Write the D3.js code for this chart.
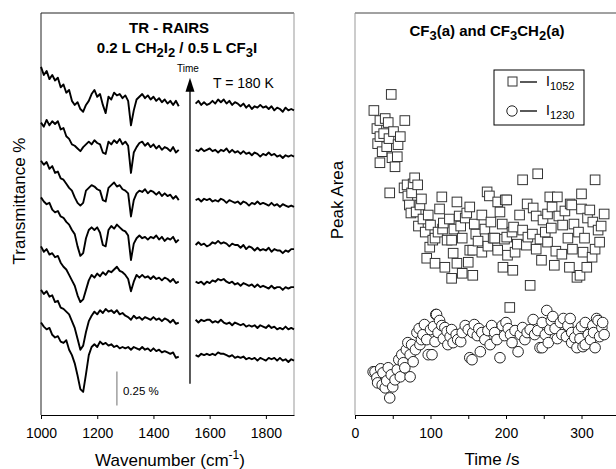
<!DOCTYPE html>
<html lang="en">
<head>
<meta charset="UTF-8">
<title>TR-RAIRS</title>
<script src="https://d3js.org/d3.v7.min.js"></script>
<style>
  body { margin: 0; background: #fff; }
  text { font-family: "Liberation Sans", Arial, sans-serif; }
</style>
</head>
<body>
<div id="chart"></div>
<script>
// ---- left panel: spectra (transmittance in units of 0.01 %) ----
const wnLeft = [1000,1010,1020,1030,1040,1050,1060,1070,1080,1090,1100,1110,1120,1130,1140,1150,1160,1170,1180,1190,
  1200,1210,1220,1230,1240,1250,1260,1270,1280,1290,1300,1310,1320,1330,1340,1350,1360,1370,1380,1390,
  1400,1410,1420,1430,1440,1450,1460,1470,1480,1490];
const wnRight = [1550,1560,1570,1580,1590,1600,1610,1620,1630,1640,1650,1660,1670,1680,1690,1700,1710,1720,
  1730,1740,1750,1760,1770,1780,1790,1800,1810,1820,1830,1840,1850,1860,1870,1880,1890,1900];

// top trace first (latest time)
const spectraLeft = [
  [256,250,253,247,250,246,248,241,243,237,239,231,228,230,225,223,228,231,236,239,234,236,228,222,234,232,237,235,236,233,235,231,213,224,232,234,236,233,235,232,234,231,233,230,232,229,231,228,231,227],
  [215,212,217,213,216,214,216,210,211,205,203,199,198,196,194,197,199,201,199,202,200,199,193,192,201,199,202,200,203,199,201,198,178,193,197,200,201,198,200,197,199,196,198,195,197,196,194,197,193,195],
  [187,184,186,181,183,178,179,174,173,170,167,165,160,156,154,156,165,167,169,168,166,165,158,157,167,169,171,168,169,166,165,163,146,158,163,165,164,166,163,165,164,162,164,161,163,161,162,159,161,158],
  [160,157,155,156,151,149,150,146,145,142,140,136,133,124,117,119,130,136,138,136,138,134,125,124,136,139,137,140,138,136,135,132,114,126,130,132,130,131,129,131,130,132,129,131,128,130,129,131,127,129],
  [124,120,122,118,119,116,117,112,109,107,103,99,95,88,83,85,92,99,103,101,104,102,105,103,106,105,107,109,106,105,103,100,91,98,103,101,103,101,102,100,102,100,101,99,101,100,98,100,97,98],
  [92,89,91,87,88,83,84,79,78,76,74,69,64,56,48,51,61,69,73,76,74,77,75,78,76,77,75,77,74,75,73,72,70,73,71,72,70,72,71,70,72,70,71,69,71,70,68,70,67,68],
  [68,65,63,64,59,57,58,54,53,55,48,44,38,29,19,17,30,44,50,52,50,54,52,53,51,52,50,51,49,50,49,50,48,50,49,48,50,48,49,47,49,47,48,46,47,46,45,46,42,43]
];
const spectraRight = [
  [229,231,228,230,228,229,231,229,232,230,232,229,231,228,230,229,227,229,226,228,225,227,226,228,226,227,225,227,224,226,225,223,226,224,225,224],
  [195,194,196,194,195,196,194,195,193,195,194,196,193,195,193,194,192,194,192,193,191,193,192,190,192,191,193,191,192,190,191,189,191,190,191,190],
  [158,159,157,159,158,159,157,158,157,159,158,156,158,157,156,157,155,157,156,154,156,155,157,155,156,155,154,156,154,155,153,155,154,153,154,153],
  [125,127,125,126,124,125,127,126,128,126,127,126,124,126,125,125,123,125,122,124,123,121,123,121,122,121,123,120,122,121,121,119,121,120,122,122],
  [98,97,98,96,98,97,99,98,100,99,100,98,97,98,96,97,95,97,96,95,96,94,96,94,95,94,93,95,93,94,94,92,94,93,94,94],
  [70,68,70,69,70,70,68,69,68,70,68,67,68,66,68,67,66,67,65,66,65,66,64,66,65,64,66,64,65,63,64,63,65,63,64,63],
  [44,43,45,44,45,44,45,44,46,45,45,44,43,44,42,43,42,43,41,42,41,42,40,42,41,40,42,41,42,40,42,40,41,39,41,40]
];
const wnTicks = [1000, 1200, 1400, 1600, 1800];
const scaleBar = {wn: 1270, from: 7, to: 32, label: "0.25 %"};
const timeArrow = {wn: 1530, from: 23, to: 248};

// ---- right panel: peak areas vs time ----
const sqT = [48,25,33,44,29,66,33,60,42,57,56,33,53,49,38,40,36,45,51,30,
  79,69,46,83,75,86,72,97,93,70,77,65,88,81,90,100,84,74,
  117,106,115,135,152,168,146,175,178,201,189,218,222,242,318,268,287,261,311,249,275,315,322,324,304,282,255,229,208,185,168,152,128,116,
  199,258,285,148,222,201,183,142,122,103,99,130,156,135,95,106,119,128,142,156,189,202,196,209,227,247,264,284,294,298,307,314,232,205,
  110,125,140,160,172,180,195,210,215,235,240,245,260,270,278,290,296,300,308,326,330,236,192,158,163,138,131,112,228,252,266,274,288,302,318,212,198,176,150,240,255,300];
const sqV = [31.9,30.3,29.3,29.1,28.5,29.3,27.7,27.7,26.7,26.9,25.7,25.1,24.7,25.6,28.0,29.5,26.2,27.5,28.2,27.0,
  23.6,22.9,22.1,22.9,22.1,20.9,20.9,19.9,18.2,21.8,23.0,22.6,21.5,20.2,19.5,18.9,18.8,20.1,
  19.1,17.6,21.7,21.2,20.7,19.9,19.6,22.2,21.8,21.4,21.2,19.9,23.4,24.0,23.4,21.7,20.9,20.7,20.4,19.4,18.9,19.2,18.4,17.2,17.6,17.6,17.2,17.7,18.2,17.6,16.2,16.4,17.4,18.5,
  21.4,21.7,21.0,20.1,18.4,17.7,17.6,17.6,17.4,17.4,16.7,16.1,16.4,15.1,15.6,15.1,14.7,13.6,14.1,13.9,16.4,15.9,14.7,14.4,16.9,15.4,14.9,14.7,13.7,13.9,14.7,15.7,12.9,10.7,
  18.2,19.5,18.8,18.0,18.5,19.2,19.0,18.7,17.0,18.0,19.8,17.5,18.6,19.8,20.3,19.0,18.2,20.5,19.6,18.8,20.0,20.6,20.2,19.0,17.3,19.8,18.5,20.5,21.0,18.2,16.3,16.0,16.5,16.2,16.5,16.2,17.5,16.8,15.2,16.5,20.0,22.0];

const ciT = [26.5,29,37,44,36,40,46,53,60,66,73,62,73,70,77,82,90,95,86,97,106,110,119,122,126,108,115,102,123,130,
  136,142,150,156,162,168,152,166,179,181,185,195,203,192,208,216,219,222,228,238,248,254,260,265,248,256,274,276,282,287,
  291,287,305,309,305,315,322,324,318,327,107,320,24,155,245,294,302,
  30,34,42,48,50,56,58,64,68,75,80,85,88,92,100,104,112,117,128,134,140,146,158,164,172,176,188,198,200,206,
  212,225,232,236,242,252,258,262,268,272,280,285,296,298,300,312,316,328,330];
const ciV = [4.3,3.7,4.2,4.7,3.0,2.7,1.7,3.5,3.8,4.7,3.8,6.0,6.0,7.2,5.3,8.2,8.0,7.5,7.0,6.0,7.3,8.2,8.7,8.3,7.8,10.0,8.9,6.0,7.0,7.2,
  7.5,8.2,8.5,8.2,7.9,8.2,5.7,6.3,7.0,8.9,8.2,8.9,8.6,5.7,7.2,6.3,8.0,8.7,8.2,8.0,9.2,10.4,9.4,8.6,6.7,7.2,8.0,9.6,8.9,8.2,
  7.7,7.2,7.0,8.0,9.2,8.9,9.4,7.8,6.7,8.7,10.0,9.6,4.3,5.5,6.7,6.7,6.8,
  3.2,4.6,3.4,4.0,2.8,4.5,5.5,5.2,6.5,7.0,6.5,8.6,7.5,9.0,8.5,8.8,9.4,7.6,8.5,8.0,7.3,8.9,9.0,8.6,7.5,8.4,7.5,7.9,9.2,8.0,
  8.4,7.5,8.5,9.5,8.4,8.0,8.5,9.8,7.6,9.2,7.8,9.6,8.4,7.6,8.8,7.5,8.2,9.2,8.0];
const timeTicks = [0, 50, 100, 150, 200, 250, 300, 350];

// ---------------------------------------------------------------
const svg = d3.select("#chart").append("svg")
  .attr("width", 616).attr("height", 469);

// ===== left panel =====
const x1 = d3.scaleLinear().domain([1000, 1900]).range([41, 294]);
const y1 = d3.scaleLinear().domain([0, 295.6]).range([415, 13]);

svg.append("line").attr("x1", 41).attr("x2", 294).attr("y1", 13).attr("y2", 13).attr("stroke", "#222");
svg.append("line").attr("x1", 41).attr("x2", 41).attr("y1", 13).attr("y2", 415).attr("stroke", "#222");
svg.append("line").attr("x1", 294).attr("x2", 294).attr("y1", 13).attr("y2", 415).attr("stroke", "#999");

const ax1 = svg.append("g")
  .attr("transform", "translate(0,415)")
  .call(d3.axisBottom(x1).tickValues(wnTicks).tickFormat(d3.format("d"))
    .tickSize(4).tickSizeOuter(0).tickPadding(9));
ax1.attr("font-family", null).attr("font-size", null);
ax1.selectAll("text").style("font-size", "14px").attr("fill", "#000");
ax1.selectAll("line,path").attr("stroke", "#000");

const line = d3.line().x(d => x1(d[0])).y(d => y1(d[1]));
spectraLeft.forEach(tr => {
  svg.append("path").datum(wnLeft.map((w, i) => [w, tr[i]]))
    .attr("d", line).attr("fill", "none").attr("stroke", "#000").attr("stroke-width", 1.9)
    .attr("stroke-linejoin", "round");
});
spectraRight.forEach(tr => {
  svg.append("path").datum(wnRight.map((w, i) => [w, tr[i]]))
    .attr("d", line).attr("fill", "none").attr("stroke", "#000").attr("stroke-width", 1.9)
    .attr("stroke-linejoin", "round");
});

// time arrow
const ax = x1(timeArrow.wn);
svg.append("line").attr("x1", ax).attr("x2", ax)
  .attr("y1", y1(timeArrow.from)).attr("y2", y1(timeArrow.to) + 10)
  .attr("stroke", "#000").attr("stroke-width", 1.3);
svg.append("path")
  .attr("d", `M${ax},${y1(timeArrow.to)} L${ax - 4.5},${y1(timeArrow.to) + 14} L${ax + 4.5},${y1(timeArrow.to) + 14} Z`)
  .attr("fill", "#000");
svg.append("text").attr("x", ax - 2).attr("y", 72).attr("text-anchor", "middle")
  .style("font-size", "10px").text("Time");
svg.append("text").attr("x", 213).attr("y", 88).style("font-size", "14px").text("T = 180 K");

// scale bar
svg.append("line").attr("x1", x1(scaleBar.wn)).attr("x2", x1(scaleBar.wn))
  .attr("y1", y1(scaleBar.from)).attr("y2", y1(scaleBar.to))
  .attr("stroke", "#888").attr("stroke-width", 1.2);
svg.append("text").attr("x", x1(scaleBar.wn) + 6).attr("y", 395)
  .style("font-size", "11.5px").text(scaleBar.label);

// titles
svg.append("text").attr("x", 169).attr("y", 33).attr("text-anchor", "middle")
  .style("font-size", "15px").style("font-weight", "bold").text("TR - RAIRS");
const t2 = svg.append("text").attr("x", 177).attr("y", 53).attr("text-anchor", "middle")
  .style("font-size", "15px").style("font-weight", "bold");
t2.append("tspan").text("0.2 L CH");
t2.append("tspan").attr("dy", 4).style("font-size", "13px").text("2");
t2.append("tspan").attr("dy", -4).text("I");
t2.append("tspan").attr("dy", 4).style("font-size", "13px").text("2");
t2.append("tspan").attr("dy", -4).text(" / 0.5 L CF");
t2.append("tspan").attr("dy", 4).style("font-size", "13px").text("3");
t2.append("tspan").attr("dy", -4).text("I");

const xl = svg.append("text").attr("x", 170).attr("y", 466).attr("text-anchor", "middle")
  .style("font-size", "17px");
xl.append("tspan").text("Wavenumber (cm");
xl.append("tspan").attr("dy", -7).style("font-size", "12px").text("-1");
xl.append("tspan").attr("dy", 7).text(")");

svg.append("text").attr("transform", "translate(25,201) rotate(-90)")
  .attr("text-anchor", "middle").style("font-size", "17px").text("Transmittance %");

// ===== right panel =====
const x2 = d3.scaleLinear().domain([0, 350]).range([355, 619.25]);
const y2 = d3.scaleLinear().domain([0, 40]).range([415, 13]);

svg.append("line").attr("x1", 355).attr("x2", 616).attr("y1", 13).attr("y2", 13).attr("stroke", "#444");
svg.append("line").attr("x1", 355).attr("x2", 355).attr("y1", 13).attr("y2", 415).attr("stroke", "#999");

const ax2 = svg.append("g")
  .attr("transform", "translate(0,415)")
  .call(d3.axisBottom(x2).tickValues(timeTicks).tickSize(4).tickSizeOuter(0).tickPadding(9)
    .tickFormat(d => d % 100 === 0 && d < 350 ? d : ""));
ax2.attr("font-family", null).attr("font-size", null);
ax2.selectAll("text").style("font-size", "14px").attr("fill", "#000");
ax2.selectAll("line,path").attr("stroke", "#000");

const squares = sqT.map((t, i) => ({t: t, v: sqV[i]})).sort((a, b) => a.t - b.t);
const circles = ciT.map((t, i) => ({t: t, v: ciV[i]})).sort((a, b) => a.t - b.t);

svg.append("g").selectAll("rect").data(squares).join("rect")
  .attr("x", d => x2(d.t) - 4.8).attr("y", d => y2(d.v) - 4.8)
  .attr("width", 9.6).attr("height", 9.6)
  .attr("fill", "#fff").attr("stroke", "#333").attr("stroke-width", 1);

svg.append("g").selectAll("circle").data(circles).join("circle")
  .attr("cx", d => x2(d.t)).attr("cy", d => y2(d.v)).attr("r", 5.3)
  .attr("fill", "#fff").attr("stroke", "#222").attr("stroke-width", 1);

// legend
const lg = svg.append("g");
lg.append("rect").attr("x", 494).attr("y", 70).attr("width", 90).attr("height", 55)
  .attr("fill", "#fff").attr("stroke", "#000");
lg.append("rect").attr("x", 508).attr("y", 77).attr("width", 9).attr("height", 9)
  .attr("fill", "#fff").attr("stroke", "#333");
lg.append("line").attr("x1", 520).attr("x2", 537).attr("y1", 82).attr("y2", 82).attr("stroke", "#000").attr("stroke-width", 1.3);
lg.append("circle").attr("cx", 512).attr("cy", 111).attr("r", 5.2).attr("fill", "#fff").attr("stroke", "#222");
lg.append("line").attr("x1", 520).attr("x2", 537).attr("y1", 111).attr("y2", 111).attr("stroke", "#000").attr("stroke-width", 1.3);
[["1052", 86], ["1230", 115]].forEach(([s, y]) => {
  const t = lg.append("text").attr("x", 546).attr("y", y).style("font-size", "14px");
  t.append("tspan").text("I");
  t.append("tspan").attr("dy", 4).style("font-size", "11px").text(s);
});

const rt = svg.append("text").attr("x", 487).attr("y", 36).attr("text-anchor", "middle")
  .style("font-size", "15px").style("font-weight", "bold");
rt.append("tspan").text("CF");
rt.append("tspan").attr("dy", 4).style("font-size", "13px").text("3");
rt.append("tspan").attr("dy", -4).text("(a) and CF");
rt.append("tspan").attr("dy", 4).style("font-size", "13px").text("3");
rt.append("tspan").attr("dy", -4).text("CH");
rt.append("tspan").attr("dy", 4).style("font-size", "13px").text("2");
rt.append("tspan").attr("dy", -4).text("(a)");

svg.append("text").attr("x", 492).attr("y", 465).attr("text-anchor", "middle")
  .style("font-size", "17px").text("Time /s");
svg.append("text").attr("transform", "translate(343,200) rotate(-90)")
  .attr("text-anchor", "middle").style("font-size", "17px").text("Peak Area");
</script>
</body>
</html>
